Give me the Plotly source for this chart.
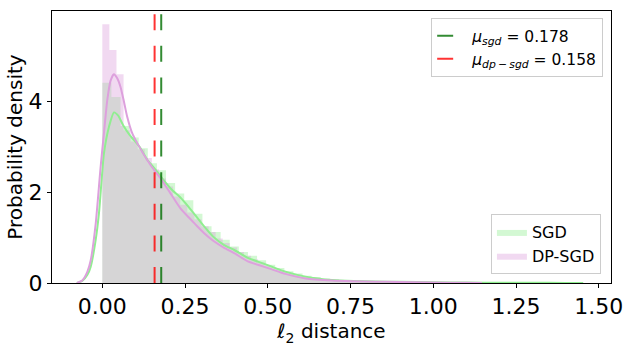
import plotly.graph_objects as go

# ---------------- data ----------------
# Histogram (density) for SGD: 50 equal bins starting at 0
SGD_BIN_START = 0.0
SGD_BIN_WIDTH = 0.0275
sgd_hist = [4.40, 4.09, 3.45, 3.20, 2.96, 2.63, 2.48, 2.20, 1.97, 1.82,
            1.52, 1.25, 1.12, 0.95, 0.80, 0.68, 0.60, 0.50, 0.40, 0.33,
            0.26, 0.21, 0.16, 0.13, 0.10, 0.08, 0.065, 0.05, 0.04, 0.035,
            0.03, 0.025, 0.02, 0.015, 0.012, 0.01, 0.01, 0.008, 0.006, 0.005,
            0.005, 0.004, 0.003, 0.003, 0.002, 0.002, 0.002, 0.001, 0.001, 0.001]

# Histogram (density) for DP-SGD: 50 equal bins starting at 0
DP_BIN_START = 0.0
DP_BIN_WIDTH = 0.0214
dp_hist = [5.69, 5.12, 4.59, 3.36, 3.11, 2.94, 2.75, 2.50, 2.30, 2.12,
           1.90, 1.72, 1.55, 1.40, 1.25, 1.12, 0.98, 0.88, 0.78, 0.68,
           0.60, 0.52, 0.45, 0.38, 0.32, 0.27, 0.22, 0.18, 0.15, 0.12,
           0.10, 0.085, 0.07, 0.06, 0.05, 0.04, 0.035, 0.03, 0.025, 0.02,
           0.018, 0.015, 0.012, 0.01, 0.008, 0.006, 0.005, 0.004, 0.003, 0.002]

# Kernel density curves
sgd_kde_x = [-0.077, -0.06, -0.045, -0.035, -0.02, -0.01, 0.005, 0.02, 0.035, 0.048,
             0.063, 0.083, 0.113, 0.135, 0.16, 0.181, 0.21, 0.236, 0.26, 0.28,
             0.307, 0.335, 0.367, 0.40, 0.438, 0.47, 0.508, 0.553, 0.614, 0.694,
             0.76, 0.825, 0.90, 1.00, 1.10, 1.20, 1.30, 1.40, 1.453]
sgd_kde_y = [0.0, 0.05, 0.18, 0.36, 0.95, 1.54, 2.85, 3.43, 3.75, 3.68,
             3.47, 3.25, 2.99, 2.72, 2.50, 2.30, 2.05, 1.88, 1.68, 1.50,
             1.25, 1.02, 0.84, 0.72, 0.56, 0.47, 0.37, 0.25, 0.14, 0.066,
             0.045, 0.035, 0.025, 0.015, 0.01, 0.006, 0.004, 0.002, 0.0]

dp_kde_x = [-0.077, -0.06, -0.045, -0.035, -0.02, -0.005, 0.005, 0.015, 0.025, 0.035,
            0.045, 0.055, 0.065, 0.075, 0.09, 0.106, 0.136, 0.16, 0.176, 0.206,
            0.236, 0.26, 0.28, 0.307, 0.335, 0.367, 0.40, 0.438, 0.47, 0.508,
            0.553, 0.614, 0.694, 0.76, 0.825, 0.90, 1.00, 1.10, 1.147]
dp_kde_y = [0.0, 0.06, 0.25, 0.50, 1.30, 2.56, 3.30, 4.02, 4.45, 4.59,
            4.50, 4.31, 4.00, 3.66, 3.30, 3.07, 2.70, 2.45, 2.30, 1.97,
            1.64, 1.45, 1.30, 1.10, 0.93, 0.78, 0.65, 0.48, 0.40, 0.31,
            0.20, 0.10, 0.055, 0.04, 0.03, 0.02, 0.01, 0.004, 0.0]

MEAN_SGD = 0.178
MEAN_DP = 0.158

x_ticks = [0.0, 0.25, 0.5, 0.75, 1.0, 1.25, 1.5]
x_tick_labels = ["0.00", "0.25", "0.50", "0.75", "1.00", "1.25", "1.50"]
y_ticks = [0, 2, 4]
y_tick_labels = ["0", "2", "4"]

X_RANGE = [-0.152, 1.537]
Y_RANGE = [0, 5.98]

# ---------------- styling ----------------
FONT = "DejaVu Sans"
SGD_FILL = "rgba(144,238,144,0.4)"
DP_FILL = "rgba(221,160,221,0.4)"
SGD_LINE = "rgb(144,238,144)"
DP_LINE = "rgb(221,160,221)"
MEAN_SGD_COLOR = "rgba(0,110,0,0.8)"
MEAN_DP_COLOR = "rgba(255,0,0,0.8)"


def step_outline(start, width, heights):
    """Bin edges and heights for a stepped (hv) histogram outline."""
    edges = [start + i * width for i in range(len(heights) + 1)]
    return edges, list(heights) + [heights[-1]]


sgd_sx, sgd_sy = step_outline(SGD_BIN_START, SGD_BIN_WIDTH, sgd_hist)
dp_sx, dp_sy = step_outline(DP_BIN_START, DP_BIN_WIDTH, dp_hist)

fig = go.Figure()

fig.add_trace(go.Scatter(x=sgd_sx, y=sgd_sy, mode="lines", line=dict(width=0, shape="hv"),
                         fill="tozeroy", fillcolor=SGD_FILL,
                         name="SGD", legend="legend2", hoverinfo="skip"))
fig.add_trace(go.Scatter(x=dp_sx, y=dp_sy, mode="lines", line=dict(width=0, shape="hv"),
                         fill="tozeroy", fillcolor=DP_FILL,
                         name="DP-SGD", legend="legend2", hoverinfo="skip"))

fig.add_trace(go.Scatter(x=sgd_kde_x, y=sgd_kde_y, mode="lines",
                         line=dict(color=SGD_LINE, width=2, shape="spline", smoothing=0.6),
                         showlegend=False, hoverinfo="skip"))
fig.add_trace(go.Scatter(x=dp_kde_x, y=dp_kde_y, mode="lines",
                         line=dict(color=DP_LINE, width=2, shape="spline", smoothing=0.6),
                         showlegend=False, hoverinfo="skip"))

fig.add_shape(type="line", xref="x", yref="paper", x0=MEAN_SGD, x1=MEAN_SGD, y0=0, y1=1,
              line=dict(color=MEAN_SGD_COLOR, width=2, dash="16px,15.6px"),
              showlegend=True, legend="legend", name="<i>μ<sub>sgd</sub></i> = 0.178")
fig.add_shape(type="line", xref="x", yref="paper", x0=MEAN_DP, x1=MEAN_DP, y0=0, y1=1,
              line=dict(color=MEAN_DP_COLOR, width=2, dash="16px,15.6px"),
              showlegend=True, legend="legend", name="<i>μ<sub>dp\u2009−\u2009sgd</sub></i> = 0.158")

axis_common = dict(showline=True, mirror=True, linecolor="black", linewidth=1,
                   ticks="outside", ticklen=4, tickwidth=1, tickcolor="black",
                   showgrid=False, zeroline=False, automargin=False,
                   tickfont=dict(family=FONT, size=22, color="black"))

fig.update_xaxes(range=X_RANGE, tickvals=x_ticks, ticktext=x_tick_labels,
                 title=dict(text="<i>ℓ</i><sub>2</sub> distance",
                            font=dict(family=FONT, size=20, color="black"), standoff=4),
                 **axis_common)
fig.update_yaxes(range=Y_RANGE, tickvals=y_ticks, ticktext=y_tick_labels,
                 title=dict(text="Probability density",
                            font=dict(family=FONT, size=20, color="black"), standoff=0),
                 **axis_common)

fig.update_layout(
    width=631, height=346,
    margin=dict(l=52, r=20, t=11, b=63),
    paper_bgcolor="white", plot_bgcolor="white",
    font=dict(family=FONT, color="black"),
    legend=dict(x=0.986, y=0.974, xanchor="right", yanchor="top",
                bgcolor="rgba(255,255,255,0.8)", bordercolor="#cccccc", borderwidth=1,
                font=dict(family=FONT, size=15.5, color="black"), itemwidth=30),
    legend2=dict(x=0.982, y=0.033, xanchor="right", yanchor="bottom",
                 bgcolor="rgba(255,255,255,0.8)", bordercolor="#cccccc", borderwidth=1,
                 font=dict(family=FONT, size=16, color="black"), itemwidth=30),
)

# remove the browser's default page margin so the figure starts at the window corner
fig.write_html("out.html", config={"displayModeBar": False},
               post_script="document.body.style.margin='0px';")
